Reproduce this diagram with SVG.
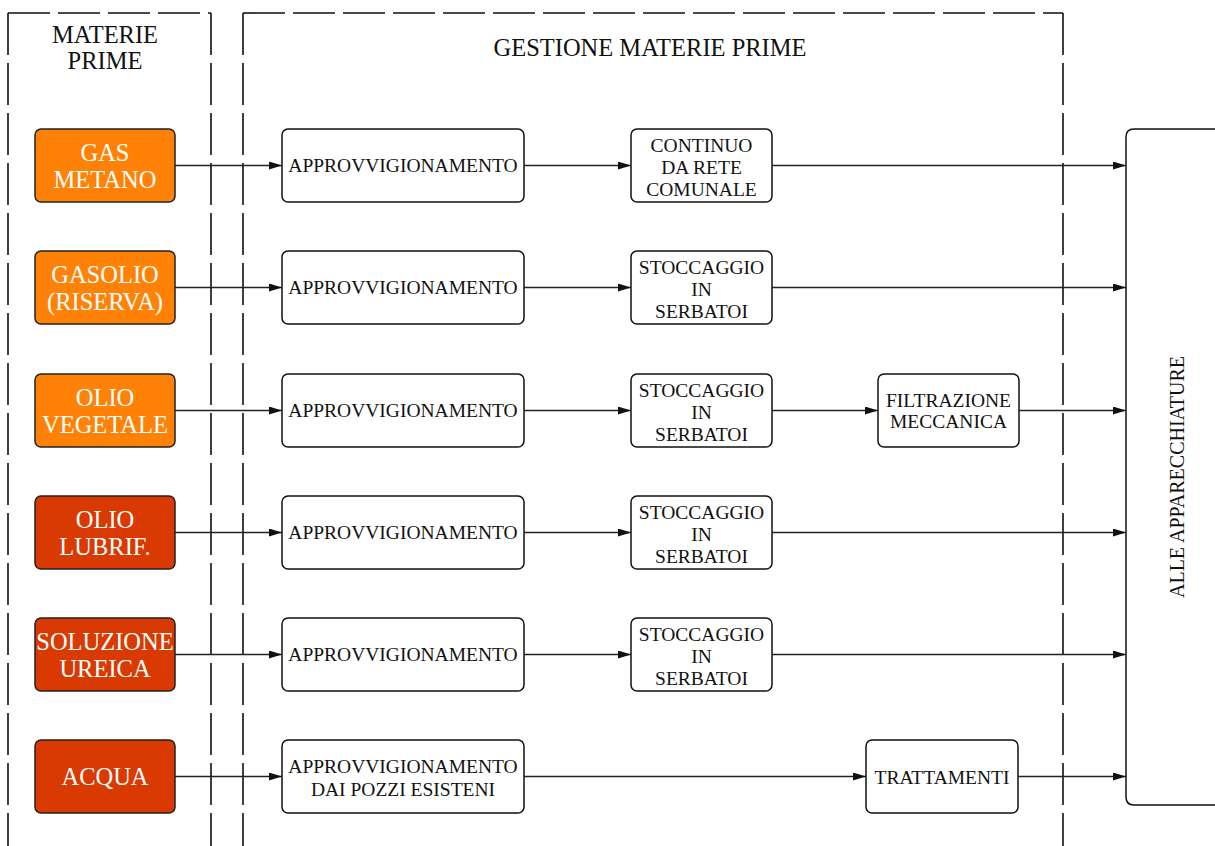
<svg xmlns="http://www.w3.org/2000/svg" width="1215" height="846" viewBox="0 0 1215 846">
<defs>
<marker id="arr" markerWidth="13" markerHeight="8" refX="13" refY="4" orient="auto" markerUnits="userSpaceOnUse">
<path d="M0,0 L13,4 L0,8 Z" fill="#111"/>
</marker>
<style>
text{font-family:"Liberation Serif","Times New Roman",serif;text-anchor:middle;}
.hdr{font-size:24.5px;fill:#111;}
.src{font-size:24.5px;fill:#fff;}
.lbl{font-size:19.5px;fill:#111;}
.vert{font-size:20px;fill:#111;}
.frame{fill:none;stroke:#111;stroke-width:1.6;stroke-dasharray:42 8;}
.box{fill:#fff;stroke:#111;stroke-width:1.5;}
.or{fill:#ff8207;stroke:#222;stroke-width:1.5;}
.rd{fill:#d93a02;stroke:#222;stroke-width:1.5;}
.con line{stroke:#222;stroke-width:1.4;marker-end:url(#arr);}
</style>
</defs>
<rect width="1215" height="846" fill="#fff"/>

<g id="frame-materie">
<line class="frame" x1="8" y1="13" x2="211" y2="13"/>
<line class="frame" x1="8" y1="13" x2="8" y2="846"/>
<line class="frame" x1="211" y1="13" x2="211" y2="846"/>
<text class="hdr" x="105" y="43">MATERIE</text>
<text class="hdr" x="105" y="69">PRIME</text>
</g>
<g id="frame-gestione">
<line class="frame" x1="243" y1="13" x2="1063" y2="13"/>
<line class="frame" x1="243" y1="13" x2="243" y2="846"/>
<line class="frame" x1="1063" y1="13" x2="1063" y2="846"/>
<text class="hdr" x="650" y="56">GESTIONE MATERIE PRIME</text>
</g>

<g id="gas-metano"><rect class="or" x="35" y="129" width="140" height="73" rx="6"/><text class="src" x="105" y="161">GAS</text><text class="src" x="105" y="188">METANO</text></g>
<g id="gasolio"><rect class="or" x="35" y="251" width="140" height="73" rx="6"/><text class="src" x="105" y="283">GASOLIO</text><text class="src" x="105" y="310">(RISERVA)</text></g>
<g id="olio-vegetale"><rect class="or" x="35" y="374" width="140" height="73" rx="6"/><text class="src" x="105" y="406">OLIO</text><text class="src" x="105" y="433">VEGETALE</text></g>
<g id="olio-lubrif"><rect class="rd" x="35" y="496" width="140" height="73" rx="6"/><text class="src" x="105" y="528">OLIO</text><text class="src" x="105" y="555">LUBRIF.</text></g>
<g id="soluzione-ureica"><rect class="rd" x="35" y="618" width="140" height="73" rx="6"/><text class="src" x="105" y="650">SOLUZIONE</text><text class="src" x="105" y="677">UREICA</text></g>
<g id="acqua"><rect class="rd" x="35" y="740" width="140" height="73" rx="6"/><text class="src" x="105" y="785">ACQUA</text></g>

<g id="appr-1"><rect class="box" x="282" y="129" width="242" height="73" rx="6"/><text class="lbl" x="403" y="172">APPROVVIGIONAMENTO</text></g>
<g id="appr-2"><rect class="box" x="282" y="251" width="242" height="73" rx="6"/><text class="lbl" x="403" y="294">APPROVVIGIONAMENTO</text></g>
<g id="appr-3"><rect class="box" x="282" y="374" width="242" height="73" rx="6"/><text class="lbl" x="403" y="417">APPROVVIGIONAMENTO</text></g>
<g id="appr-4"><rect class="box" x="282" y="496" width="242" height="73" rx="6"/><text class="lbl" x="403" y="539">APPROVVIGIONAMENTO</text></g>
<g id="appr-5"><rect class="box" x="282" y="618" width="242" height="73" rx="6"/><text class="lbl" x="403" y="661">APPROVVIGIONAMENTO</text></g>
<g id="appr-6"><rect class="box" x="282" y="740" width="242" height="73" rx="6"/><text class="lbl" x="403" y="773">APPROVVIGIONAMENTO</text><text class="lbl" x="403" y="796">DAI POZZI ESISTENI</text></g>

<g id="continuo"><rect class="box" x="631" y="129" width="141" height="73" rx="6"/><text class="lbl" x="701.5" y="152">CONTINUO</text><text class="lbl" x="701.5" y="174">DA RETE</text><text class="lbl" x="701.5" y="196">COMUNALE</text></g>
<g id="stocc-2"><rect class="box" x="631" y="251" width="141" height="73" rx="6"/><text class="lbl" x="701.5" y="274">STOCCAGGIO</text><text class="lbl" x="701.5" y="296">IN</text><text class="lbl" x="701.5" y="318">SERBATOI</text></g>
<g id="stocc-3"><rect class="box" x="631" y="374" width="141" height="73" rx="6"/><text class="lbl" x="701.5" y="397">STOCCAGGIO</text><text class="lbl" x="701.5" y="419">IN</text><text class="lbl" x="701.5" y="441">SERBATOI</text></g>
<g id="stocc-4"><rect class="box" x="631" y="496" width="141" height="73" rx="6"/><text class="lbl" x="701.5" y="519">STOCCAGGIO</text><text class="lbl" x="701.5" y="541">IN</text><text class="lbl" x="701.5" y="563">SERBATOI</text></g>
<g id="stocc-5"><rect class="box" x="631" y="618" width="141" height="73" rx="6"/><text class="lbl" x="701.5" y="641">STOCCAGGIO</text><text class="lbl" x="701.5" y="663">IN</text><text class="lbl" x="701.5" y="685">SERBATOI</text></g>

<g id="filtrazione"><rect class="box" x="878" y="374" width="141" height="73" rx="6"/><text class="lbl" x="948.5" y="407">FILTRAZIONE</text><text class="lbl" x="948.5" y="428">MECCANICA</text></g>
<g id="trattamenti"><rect class="box" x="866" y="740" width="152" height="73" rx="6"/><text class="lbl" x="942" y="784">TRATTAMENTI</text></g>

<g id="apparecchiature">
<path d="M1230,129 H1134 Q1126,129 1126,137 V797 Q1126,805 1134,805 H1230" fill="#fff" stroke="#111" stroke-width="1.5"/>
<text class="vert" transform="translate(1184,477) rotate(-90)">ALLE APPARECCHIATURE</text>
</g>

<g id="connectors" class="con">
<line x1="175" y1="165.5" x2="282" y2="165.5"/>
<line x1="524" y1="165.5" x2="631" y2="165.5"/>
<line x1="772" y1="165.5" x2="1126" y2="165.5"/>
<line x1="175" y1="287.5" x2="282" y2="287.5"/>
<line x1="524" y1="287.5" x2="631" y2="287.5"/>
<line x1="772" y1="287.5" x2="1126" y2="287.5"/>
<line x1="175" y1="410.5" x2="282" y2="410.5"/>
<line x1="524" y1="410.5" x2="631" y2="410.5"/>
<line x1="772" y1="410.5" x2="878" y2="410.5"/>
<line x1="1019" y1="410.5" x2="1126" y2="410.5"/>
<line x1="175" y1="532.5" x2="282" y2="532.5"/>
<line x1="524" y1="532.5" x2="631" y2="532.5"/>
<line x1="772" y1="532.5" x2="1126" y2="532.5"/>
<line x1="175" y1="654.5" x2="282" y2="654.5"/>
<line x1="524" y1="654.5" x2="631" y2="654.5"/>
<line x1="772" y1="654.5" x2="1126" y2="654.5"/>
<line x1="175" y1="776.5" x2="282" y2="776.5"/>
<line x1="524" y1="776.5" x2="866" y2="776.5"/>
<line x1="1018" y1="776.5" x2="1126" y2="776.5"/>
</g>
</svg>
